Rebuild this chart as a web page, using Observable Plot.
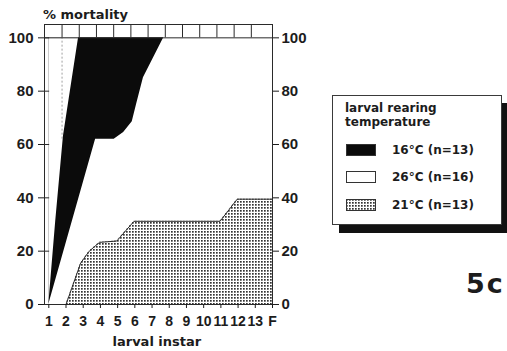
<!DOCTYPE html>
<html><head><meta charset="utf-8">
<script src="https://cdn.jsdelivr.net/npm/d3@7"></script>
<script src="https://cdn.jsdelivr.net/npm/@observablehq/plot@0.6"></script>
<style>
body{margin:0;background:#fff;font-family:"DejaVu Sans",sans-serif;font-weight:bold;color:#1c1c1c}
#wrap{position:relative;width:507px;height:351px;overflow:hidden;background:#fff}
#wrap > svg{position:absolute;left:0;top:0}
.t{position:absolute;white-space:nowrap;line-height:1}
.legend{position:absolute;left:332px;top:95px;width:168px;height:128px;border:1px solid #3a3a3a;background:#fff;box-shadow:7px 8px 0 #111}
.legend .row{position:absolute;left:13px;height:12px;display:flex;align-items:center}
.legend .row svg{display:block;flex:none}
.legend .row span{margin-left:16px;font-size:12px;white-space:nowrap}
</style></head><body><div id="wrap"></div>
<script>
// x axis: larval instars (F = final, plotted at 14)
const instars = [1,2,3,4,5,6,7,8,9,10,11,12,13,14];
const xLabels = ["1","2","3","4","5","6","7","8","9","10","11","12","13","F"];
const yTicks = [0,20,40,60,80,100];
// boundary curves (% mortality vs instar)
const mort16X = [1, 3.72, 4.8, 5.35, 5.85, 6.1, 6.5, 7.68, 14];
const mort16Y = [0, 62, 62, 64.5, 68.5, 75, 85, 100, 100];
const mort26X = [1, 1.4, 1.85, 2.73];
const mort26Y = [0, 31, 63, 100];
const mort21X = [2, 2.85, 3.35, 3.95, 4.95, 5.95, 10.95, 11.95, 14];
const mort21Y = [0, 15.5, 20, 23.3, 23.8, 31.2, 31.2, 39.5, 39.5];
// top strip cell dividers
const stripDividers = [1.77,2.77,3.77,4.77,5.77,6.77,7.77,8.77,9.77,10.77,11.77,12.77];
const legendTitle = ["larval rearing", "temperature"];
const legendLabels = ["16°C (n=13)", "26°C (n=16)", "21°C (n=13)"];
const legendFills = ["#0b0b0b", "#ffffff", "url(#dots)"];
const yTitle = "% mortality";
const xTitle = "larval instar";
const panelLabel = "5c";

const toRows = (xs, ys) => xs.map((x, i) => ({x, y: ys[i]}));
const d16 = toRows(mort16X, mort16Y);
const d26 = toRows(mort26X, mort26Y);
const d21 = toRows(mort21X, mort21Y);
const lineCol = "#2a2a2a";
const tickFont = "'Liberation Sans', Arial, sans-serif";

const chart = Plot.plot({
  width: 507, height: 351,
  marginLeft: 44, marginRight: 235, marginTop: 24, marginBottom: 47,
  x: {domain: [0.75, 14]},
  y: {domain: [0, 105]},
  style: {fontFamily: tickFont, fontWeight: "bold", fontSize: "15px", color: "#1c1c1c", background: "transparent", overflow: "visible"},
  marks: [
    Plot.areaY(d16, {x: "x", y1: "y", y2: 100, fill: "#0b0b0b"}),
    Plot.areaY(d26, {x: "x", y1: "y", y2: 100, fill: "#ffffff"}),
    Plot.areaY(d21, {x: "x", y: "y", fill: "url(#dots)"}),
    Plot.line(d21, {x: "x", y: "y", stroke: lineCol, strokeWidth: 1}),
    Plot.ruleX([1.77], {y1: 62, y2: 100, stroke: "#888", strokeDasharray: "2,2", strokeWidth: 0.8}),
    Plot.ruleX(stripDividers, {y1: 100, y2: 105, stroke: lineCol, strokeWidth: 1}),
    Plot.ruleY([100, 105], {x1: 0.75, x2: 14, stroke: lineCol, strokeWidth: 1}),
    Plot.ruleX([0.75, 14], {y1: 0, y2: 105, stroke: lineCol, strokeWidth: 1}),
    Plot.ruleY([0], {x1: 0.75, x2: 14, stroke: lineCol, strokeWidth: 1}),
    Plot.ruleY(yTicks, {x1: 0.75, x2: 1.05, stroke: lineCol, strokeWidth: 1}),
    Plot.axisY({ticks: yTicks, anchor: "left", tickSize: 6, tickPadding: 5, label: null, fontSize: 15}),
    Plot.axisY({ticks: yTicks, anchor: "right", tickSize: 6, tickPadding: 3, label: null, fontSize: 15}),
    Plot.axisX({ticks: instars, tickFormat: d => xLabels[instars.indexOf(d)], tickSize: 4, tickPadding: 8, label: null, fontSize: 14})
  ]
});

// dotted fill pattern
const svg = d3.select(chart);
const defs = svg.insert("defs", ":first-child");
const pat = defs.append("pattern").attr("id", "dots").attr("width", 3).attr("height", 3).attr("patternUnits", "userSpaceOnUse");
pat.append("rect").attr("width", 3).attr("height", 3).attr("fill", "#fff");
pat.append("rect").attr("width", 1.7).attr("height", 1.7).attr("fill", "#333");

const wrap = document.getElementById("wrap");
wrap.appendChild(chart);

function addText(txt, left, top, size, extra) {
  const d = document.createElement("div");
  d.className = "t";
  d.textContent = txt;
  d.style.left = left + "px"; d.style.top = top + "px"; d.style.fontSize = size + "px";
  if (extra) Object.assign(d.style, extra);
  wrap.appendChild(d);
  return d;
}
addText(yTitle, 43, 8, 13);
const xt = addText(xTitle, 0, 335, 13);
xt.style.left = (157 - xt.offsetWidth / 2) + "px";
addText(panelLabel, 466, 270, 27, {letterSpacing: "2px"});

// legend
const lg = document.createElement("div");
lg.className = "legend";
legendTitle.forEach((s, i) => {
  const d = document.createElement("div");
  d.className = "t"; d.textContent = s; d.style.fontSize = "12px";
  d.style.left = "12px"; d.style.top = (6 + i * 14.4) + "px";
  lg.appendChild(d);
});
const rowCenters = [54, 81, 108.5];
legendLabels.forEach((s, i) => {
  const r = document.createElement("div");
  r.className = "row"; r.style.top = (rowCenters[i] - 6) + "px";
  r.innerHTML = `<svg width="30" height="12"><rect x="0.5" y="0.5" width="29" height="11" fill="${legendFills[i]}" stroke="#333" stroke-width="1"/></svg><span></span>`;
  r.querySelector("span").textContent = s;
  lg.appendChild(r);
});
wrap.appendChild(lg);
</script>
</body></html>
